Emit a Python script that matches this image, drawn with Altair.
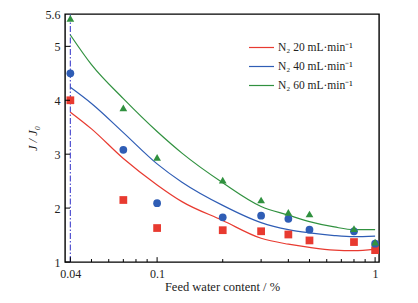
import altair as alt
import pandas as pd

series = ["N\u2082 20 mL\u00b7min\u207b\u00b9", "N\u2082 40 mL\u00b7min\u207b\u00b9", "N\u2082 60 mL\u00b7min\u207b\u00b9"]
colors = ["#e83a30", "#2f5db5", "#30913f"]
shapes = ["square", "circle", "triangle-up"]

# measured points
x_pts = [0.04, 0.07, 0.1, 0.2, 0.3, 0.4, 0.5, 0.8, 1.0]
red_pts = [4.00, 2.15, 1.63, 1.59, 1.57, 1.51, 1.40, 1.37, 1.22]
blue_pts = [4.50, 3.08, 2.09, 1.83, 1.86, 1.80, 1.60, 1.57, 1.34]
green_pts = [5.52, 3.86, 2.94, 2.52, 2.15, 1.92, 1.89, 1.62, 1.37]

# fitted curves
x_fit = [0.04, 0.05, 0.07, 0.1, 0.13, 0.2, 0.3, 0.4, 0.5, 0.65, 0.8, 1.0]
red_fit = [3.78, 3.47, 2.92, 2.43, 2.12, 1.77, 1.44, 1.33, 1.27, 1.22, 1.21, 1.24]
blue_fit = [4.24, 3.94, 3.40, 2.82, 2.48, 2.05, 1.73, 1.60, 1.54, 1.49, 1.47, 1.48]
green_fit = [5.21, 4.66, 4.03, 3.42, 3.02, 2.47, 2.03, 1.87, 1.75, 1.65, 1.60, 1.60]

x_major = [0.04, 0.1, 1.0]
x_minor = [0.05, 0.06, 0.07, 0.08, 0.09, 0.2, 0.3, 0.4, 0.5, 0.6, 0.7, 0.8, 0.9]
y_ticks = [1, 2, 3, 4, 5]
ref_x = [0.04]

pts = pd.DataFrame(
    [(x, y, series[0]) for x, y in zip(x_pts, red_pts)]
    + [(x, y, series[1]) for x, y in zip(x_pts, blue_pts)]
    + [(x, y, series[2]) for x, y in zip(x_pts, green_pts)],
    columns=["x", "y", "p"],
)
fit = pd.DataFrame(
    [(x, y, series[0]) for x, y in zip(x_fit, red_fit)]
    + [(x, y, series[1]) for x, y in zip(x_fit, blue_fit)]
    + [(x, y, series[2]) for x, y in zip(x_fit, green_fit)],
    columns=["x", "y", "s"],
)

FONT = "Liberation Serif"
xscale = alt.Scale(type="log", domain=[0.0378, 1.042], nice=False)
yscale = alt.Scale(domain=[1, 5.6], nice=False, zero=False)

X = alt.X("x:Q", scale=xscale,
          axis=alt.Axis(values=x_major, format="~g", title="Feed water content / %",
                        ticks=False, tickSize=0, domain=False, grid=False,
                        labelPadding=6, titlePadding=1))
Y = alt.Y("y:Q", scale=yscale,
          axis=alt.Axis(values=[1, 2, 3, 4, 5, 5.6], format="~g", title="J / J\u2080",
                        titleFontStyle="italic", ticks=False, tickSize=0, domain=False,
                        grid=False, labelPadding=5, titlePadding=6))

lines = alt.Chart(fit).mark_line(strokeWidth=1.2, interpolate="monotone").encode(
    x=X, y=Y,
    color=alt.Color("s:N", scale=alt.Scale(domain=series, range=colors), sort=series,
                    legend=alt.Legend(title=None, orient="none", legendX=183, legendY=20,
                                      symbolType="stroke", symbolSize=625,
                                      symbolStrokeWidth=1.2, labelFont=FONT,
                                      labelFontSize=11.5, labelColor="#222",
                                      rowPadding=-6.5, labelOffset=3)),
    detail="s:N",
)

points = alt.Chart(pts).mark_point(filled=True, opacity=1, size=60).encode(
    x="x:Q", y="y:Q",
    color=alt.Color("p:N", scale=alt.Scale(domain=series, range=colors), legend=None),
    shape=alt.Shape("p:N", scale=alt.Scale(domain=series, range=shapes), legend=None),
)

vref = alt.Chart(pd.DataFrame({"x": ref_x})).mark_rule(
    color="#5050d0", strokeWidth=1.2, strokeDash=[6, 2, 1.5, 2]
).encode(x="x:Q", y=alt.datum(1), y2=alt.datum(5.6))

xmaj = alt.Chart(pd.DataFrame({"x": x_major})).mark_rule(color="black", strokeWidth=1).encode(
    x="x:Q", y=alt.datum(1), y2=alt.datum(1.09))
xmin = alt.Chart(pd.DataFrame({"x": x_minor})).mark_rule(color="black", strokeWidth=1).encode(
    x="x:Q", y=alt.datum(1), y2=alt.datum(1.055))
yt = alt.Chart(pd.DataFrame({"y": y_ticks})).mark_rule(color="black", strokeWidth=1).encode(
    y="y:Q", x=alt.value(0), x2=alt.value(5))

chart = alt.layer(vref, lines, points, xmaj, xmin, yt).resolve_scale(
    color="independent", shape="independent"
).resolve_legend(
    color="independent", shape="independent"
).properties(
    width=314, height=248,
    padding={"left": 57, "top": 6, "right": 10, "bottom": 33},
    autosize=alt.AutoSizeParams(type="none"),
    background="white",
).configure_view(
    stroke="black", strokeWidth=1.4
).configure_axis(
    labelFont=FONT, titleFont=FONT, labelFontSize=12, titleFontSize=12.5,
    labelColor="#222", titleColor="#222", titleFontWeight="normal",
)

chart.save("out.html", embed_options={"renderer": "svg", "actions": False})
